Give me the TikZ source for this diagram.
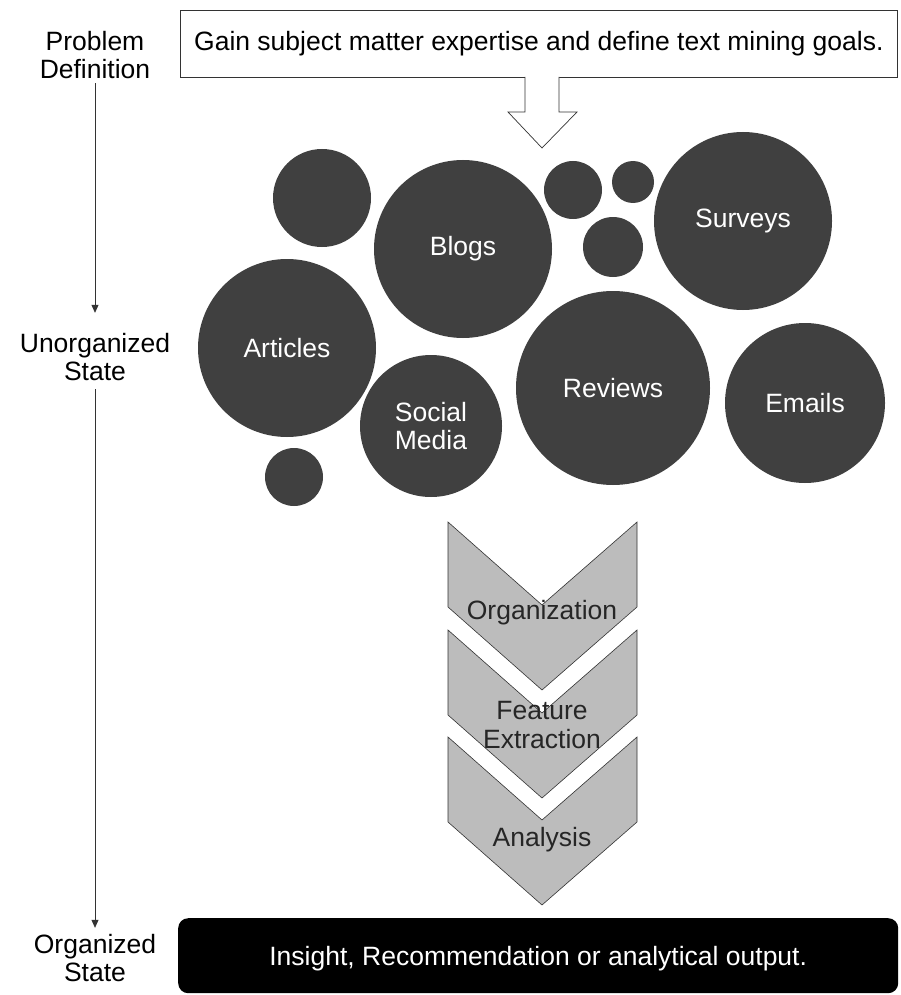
\documentclass[tikz,border=0pt]{standalone}
\usepackage{fontspec}
\setmainfont{Liberation Sans}
\usetikzlibrary{arrows.meta}
\definecolor{bubcol}{HTML}{404040}
\definecolor{chevcol}{HTML}{BCBCBC}
\definecolor{edgecol}{HTML}{333333}

\begin{document}
\begin{tikzpicture}[x=1pt, y=-1pt,
  txt/.style={font=\fontsize{26.5}{28.5}\selectfont, align=center, inner sep=0pt},
  bub/.style={circle, fill=bubcol, text=white, inner sep=0pt, txt},
  stage/.style={txt, text=black!85},
  flow/.style={draw=edgecol, line width=0.8pt, -{Triangle[length=8pt, width=7pt]}}]
  \useasboundingbox (0,0) rectangle (900,995);
  \def\cx{542}\def\h{85}\def\tip{168}

  % state labels on the left
  \node[txt] (probdef) at (95,55) {Problem\\Definition};
  \node[txt] (unorg) at (95,357) {Unorganized\\State};
  \node[txt] (org) at (95,958) {Organized\\State};
  \draw[flow, shorten <=4pt, shorten >=20pt] (probdef) -- (unorg);
  \draw[flow, shorten <=8pt, shorten >=6pt] (unorg) -- (org);

  % goal box with hollow arrow
  \node[draw=edgecol, line width=0.7pt, minimum width=717, minimum height=67, anchor=north west,
        txt] (goal) at (180,10) {Gain subject matter expertise and define text mining goals.};
  \fill[white] (525,75) rectangle (559,79);
  \draw[edgecol, line width=0.7pt, fill=white]
    (525,77)--(525,112)--(508,112)--(\cx,148)--(577,112)--(559,112)--(559,77);

  % text sources
  \node[bub, minimum size=98] (dotA) at (322,198) {};
  \node[bub, minimum size=178] (blogs) at (463,249) {Blogs};
  \node[bub, minimum size=58] (dotB) at (573,190) {};
  \node[bub, minimum size=42] (dotC) at (633,182) {};
  \node[bub, minimum size=60] (dotD) at (613,247) {};
  \node[bub, minimum size=178] (surveys) at (743,221) {Surveys};
  \node[bub, minimum size=178] (articles) at (287,348) {Articles};
  \node[bub, minimum size=142] (social) at (431,426) {Social\\Media};
  \node[bub, minimum size=194] (reviews) at (613,388) {Reviews};
  \node[bub, minimum size=160] (emails) at (805,403) {Emails};
  \node[bub, minimum size=58] (dotE) at (294,477) {};

  % processing chevrons
  \foreach \y in {522,630,737} {
    \draw[edgecol, line width=0.6pt, fill=chevcol]
      (448,\y)--(\cx,\y+83)--(637,\y)--(637,\y+\h)--(\cx,\y+\tip)--(448,\y+\h)--cycle;
  }
  \node[stage] (organize) at (\cx,613) {Organization};
  \node[stage] (features) at (\cx,725) {Feature\\Extraction};
  \node[stage] (analysis) at (\cx,840) {Analysis};

  % result
  \node[fill=black, rounded corners=10pt, minimum width=720, minimum height=75, anchor=north west,
        txt, text=white, text depth=0pt] (output) at (178,918) {Insight, Recommendation or analytical output.};
\end{tikzpicture}
\end{document}
